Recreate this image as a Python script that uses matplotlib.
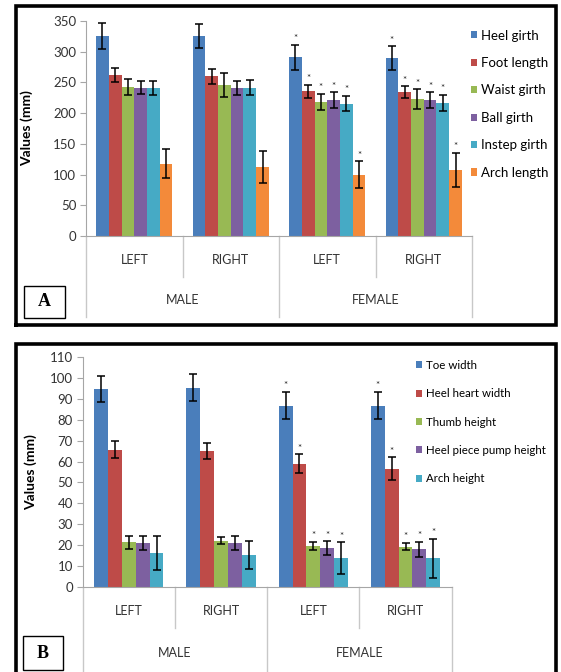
import numpy as np
import matplotlib
matplotlib.use('Agg')
import matplotlib.pyplot as plt
from matplotlib.patches import Rectangle
from matplotlib.lines import Line2D

plt.rcParams['font.family'] = ['Lato', 'DejaVu Sans']

W, H = 561., 672.

# Data
sides = ['LEFT', 'RIGHT', 'LEFT', 'RIGHT']
sexes = ['MALE', 'FEMALE']

names_a = ['Heel girth', 'Foot length', 'Waist girth', 'Ball girth', 'Instep girth', 'Arch length']
vals_a = [[326, 325.5, 291, 290],
          [262, 260, 235.5, 234],
          [242.5, 246, 218, 222.5],
          [241.5, 241.5, 221, 221],
          [241, 241.5, 215.5, 217],
          [118, 113, 100, 108]]
err_a = [[21.5, 19, 20.5, 19],
         [12, 12, 11, 10],
         [12.5, 19.5, 13.5, 16],
         [11, 11.5, 13, 13],
         [12, 12, 12.5, 13],
         [23.5, 26, 21.5, 27.5]]

names_b = ['Toe width', 'Heel heart width', 'Thumb height', 'Heel piece pump height', 'Arch height']
vals_b = [[94.6, 95.4, 86.8, 86.8],
          [65.7, 65, 59, 56.6],
          [21.3, 22, 19.5, 19.2],
          [21, 21, 18.5, 18],
          [16, 15.2, 13.6, 13.6]]
err_b = [[6.2, 6.5, 6.5, 6.5],
         [4.2, 4, 4.4, 5.4],
         [3, 1.6, 2, 1.8],
         [3.5, 3.5, 3.2, 3.6],
         [8.2, 6.5, 7.7, 9.2]]

colors = ['#4a7ebb', '#be4b48', '#98b954', '#7d60a0', '#46aac5', '#f38a3a']


def px_axes(l, r, t, b):
    return fig.add_axes([l / W, 1 - b / H, (r - l) / W, (b - t) / H])


def frame(l, t, r, b, bottom=True):
    # thick black border round a panel, pixel coords from top-left
    pts = [(l, b), (l, t), (r, t), (r, b)]
    if bottom:
        pts.append((l, b))
    xs = [p[0] / W for p in pts]
    ys = [1 - p[1] / H for p in pts]
    fig.add_artist(Line2D(xs, ys, transform=fig.transFigure, color='black',
                          lw=2.6, solid_joinstyle='miter'))


def letter_box(txt, l, t, r, b):
    fig.patches.append(Rectangle((l / W, 1 - b / H), (r - l) / W, (b - t) / H,
                                 transform=fig.transFigure, fill=False,
                                 edgecolor='black', linewidth=1.0))
    fig.text((l + r) / 2 / W, 1 - (t + b) / 2 / H, txt, ha='center', va='center',
             fontsize=13, fontweight='bold', family='Liberation Serif')


def panel(ax, names, vals, errs, width, ymax, ystep, ax_top, ax_bot,
          y_side, y_sex, y_inner, y_outer, star_off, ylab_x):
    hpx = ax_bot - ax_top
    n = len(names)
    x = np.arange(4) + 0.5
    for j in range(n):
        xs = x + (j - (n - 1) / 2.) * width
        ax.bar(xs, vals[j], width, color=colors[j], label=names[j], zorder=2)
        ax.errorbar(xs, vals[j], yerr=errs[j], fmt='none', ecolor='black',
                    elinewidth=1.1, capsize=2.6, capthick=1.1, zorder=3)
        # significance marks on female groups
        for k in (2, 3):
            ax.text(xs[k], vals[j][k] + errs[j][k] + star_off, '*', ha='center',
                    va='bottom', fontsize=7, color='#222222')
    ax.set_xlim(0, 4)
    ax.set_ylim(0, ymax)
    ax.set_yticks(np.arange(0, ymax + 1, ystep))
    ax.set_xticks([])
    for s in ['top', 'right']:
        ax.spines[s].set_visible(False)
    ax.spines['left'].set_color('#a6a6a6')
    ax.spines['bottom'].set_color('#a6a6a6')
    ax.tick_params(axis='y', direction='out', length=4, color='#a6a6a6',
                   labelsize=9.5, labelcolor='#333333', pad=3)
    ax.set_ylabel('Values (mm)', fontsize=10, fontweight='bold')
    ax.yaxis.set_label_coords(ylab_x, 0.5)
    tr = ax.get_xaxis_transform()
    fy = lambda ypx: (ax_bot - ypx) / hpx
    for xd in range(5):
        yb = y_outer if xd % 2 == 0 else y_inner
        ax.plot([xd, xd], [0, fy(yb)], color='#c8c8c8', lw=1.0,
                transform=tr, clip_on=False)
    for i, s in enumerate(sides):
        ax.text(i + 0.5, fy(y_side), s, transform=tr, ha='center', va='center',
                fontsize=9, color='#333333')
    for i, s in enumerate(sexes):
        ax.text(2 * i + 1, fy(y_sex), s, transform=tr, ha='center', va='center',
                fontsize=9, color='#333333')


fig = plt.figure(figsize=(W / 100, H / 100), dpi=100)

# Panel A
frame(16, 6, 556, 325)
axa = px_axes(86, 472, 21, 236)
panel(axa, names_a, vals_a, err_a, 0.132, 350, 50, 21, 236, 260, 300, 277, 317,
      2.5, (33 - 86) / 386.)
axa.legend(loc='upper left', bbox_to_anchor=(471 / W, 1 - 29.5 / H),
           bbox_transform=fig.transFigure, frameon=False, fontsize=9.5,
           handlelength=0.45, handleheight=0.45, handletextpad=0.3,
           labelspacing=1.17, borderpad=0, borderaxespad=0)
letter_box('A', 24, 286, 65, 318)

# Panel B
frame(16, 344, 556, 672, bottom=False)
axb = px_axes(82.7, 451.7, 357.3, 586.7)
panel(axb, names_b, vals_b, err_b, 0.15, 110, 10, 357.3, 586.7, 611, 653, 628, 672,
      0.8, (37 - 82.7) / 369.)
axb.legend(loc='upper left', bbox_to_anchor=(416 / W, 1 - 360 / H),
           bbox_transform=fig.transFigure, frameon=False, fontsize=8.3,
           handlelength=0.55, handleheight=0.55, handletextpad=0.3,
           labelspacing=1.5, borderpad=0, borderaxespad=0)
letter_box('B', 23, 636, 63, 670)

fig.savefig('out.png', dpi=100)
